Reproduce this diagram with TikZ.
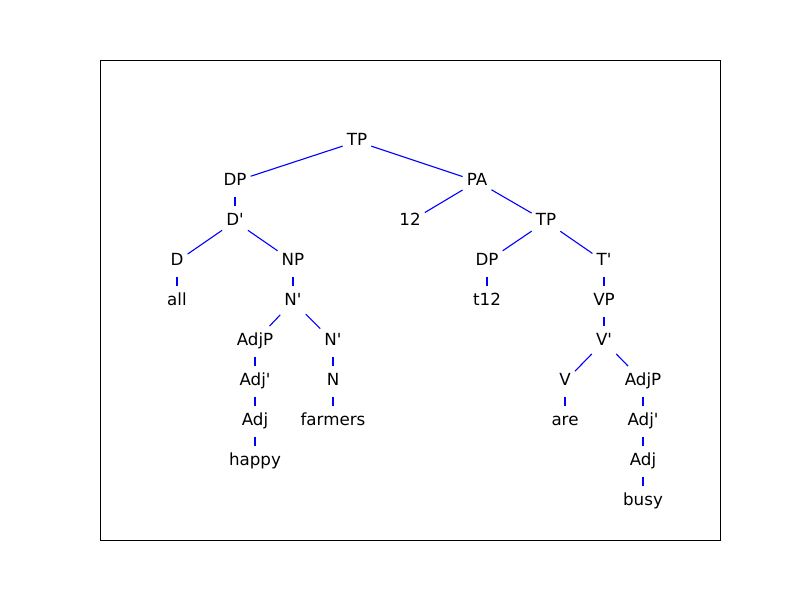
\documentclass[tikz,border=0pt]{standalone}
\usepackage{fontspec}
\setmainfont{DejaVu Sans}[Ligatures=TeXOff]
\begin{document}
\begin{tikzpicture}[x=1pt,y=-1pt,
  tn/.style={anchor=base,inner xsep=4pt,inner ysep=4pt,text height=15.2pt,text depth=7pt,
    font=\fontsize{16.7}{20}\selectfont,text=black},
  br/.style={draw=blue,line width=1.1pt}]
\useasboundingbox (0,0) rectangle (800,600);
\draw[black,line width=1pt] (100,60) rectangle (720,540);
% rows baselines: 145.5 + 40k
\node[tn] (tp) at (357,145.5) {TP};
\node[tn] (dp) at (235,185.5) {DP};
\node[tn] (pa) at (477,185.5) {PA};
\node[tn] (dbar) at (235,225.5) {D'};
\node[tn] (twelve) at (410,225.5) {12};
\node[tn] (tpb) at (546,225.5) {TP};
\node[tn] (d) at (177,265.5) {D};
\node[tn] (np) at (293,265.5) {NP};
\node[tn] (dpb) at (487,265.5) {DP};
\node[tn] (tbar) at (604,265.5) {T'};
\node[tn] (all) at (177,305.5) {all};
\node[tn] (nbar) at (293,305.5) {N'};
\node[tn] (t12) at (487,305.5) {t12};
\node[tn] (vp) at (604,305.5) {VP};
\node[tn] (adjp) at (255,345.5) {AdjP};
\node[tn] (nbarb) at (333,345.5) {N'};
\node[tn] (vbar) at (604,345.5) {V'};
\node[tn] (adjbar) at (255,385.5) {Adj'};
\node[tn] (n) at (333,385.5) {N};
\node[tn] (v) at (565,385.5) {V};
\node[tn] (adjpb) at (643,385.5) {AdjP};
\node[tn] (adj) at (255,425.5) {Adj};
\node[tn] (farmers) at (333,425.5) {farmers};
\node[tn] (are) at (565,425.5) {are};
\node[tn] (adjbarb) at (643,425.5) {Adj'};
\node[tn] (happy) at (255,465.5) {happy};
\node[tn] (adjb) at (643,465.5) {Adj};
\node[tn] (busy) at (643,505.5) {busy};
\draw[br] (tp) -- (dp);
\draw[br] (tp) -- (pa);
\draw[br] (dp) -- (dbar);
\draw[br] (pa) -- (twelve);
\draw[br] (pa) -- (tpb);
\draw[br] (dbar) -- (d);
\draw[br] (dbar) -- (np);
\draw[br] (tpb) -- (dpb);
\draw[br] (tpb) -- (tbar);
\draw[br] (d) -- (all);
\draw[br] (np) -- (nbar);
\draw[br] (dpb) -- (t12);
\draw[br] (tbar) -- (vp);
\draw[br] (nbar) -- (adjp);
\draw[br] (nbar) -- (nbarb);
\draw[br] (vp) -- (vbar);
\draw[br] (adjp) -- (adjbar);
\draw[br] (nbarb) -- (n);
\draw[br] (vbar) -- (v);
\draw[br] (vbar) -- (adjpb);
\draw[br] (adjbar) -- (adj);
\draw[br] (n) -- (farmers);
\draw[br] (v) -- (are);
\draw[br] (adjpb) -- (adjbarb);
\draw[br] (adj) -- (happy);
\draw[br] (adjbarb) -- (adjb);
\draw[br] (adjb) -- (busy);
\end{tikzpicture}
\end{document}
